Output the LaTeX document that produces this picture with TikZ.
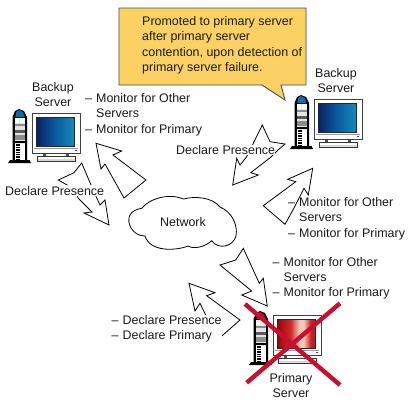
\documentclass[tikz,border=0pt]{standalone}
\usepackage{fontspec}
\setmainfont{Liberation Sans}
\definecolor{calloutfill}{HTML}{FBD164}
\definecolor{crossred}{HTML}{C8102E}
\definecolor{txt}{HTML}{1A1A1A}
\definecolor{casegray}{HTML}{E4E4E4}
\definecolor{capblue}{HTML}{0F6CA8}
\definecolor{capred}{HTML}{B01020}
\definecolor{sbA}{HTML}{0A2468}
\definecolor{sbB}{HTML}{0B5CA0}
\definecolor{sbC}{HTML}{1488B8}
\definecolor{srA}{HTML}{A00810}
\definecolor{srB}{HTML}{D02A28}
\definecolor{srC}{HTML}{F4C8B8}
\definecolor{srD}{HTML}{C81C20}
\pgfdeclarehorizontalshading{bluescreen}{100bp}{color(0bp)=(sbA); color(25bp)=(sbA); color(50bp)=(sbB); color(75bp)=(sbC); color(100bp)=(sbC)}
\pgfdeclarehorizontalshading{redscreen}{100bp}{color(0bp)=(srA); color(25bp)=(srA); color(42bp)=(srB); color(54bp)=(srC); color(60bp)=(srC); color(70bp)=(srD); color(100bp)=(srD)}
\newcommand{\serverbox}[4]{%
 \begin{scope}[shift={(#1,#2)}]
  % tower
  \fill[black] (8,163) -- (10,160) -- (12.5,160) -- (12.5,117) -- (15,111) -- (19,109) -- (24,111) -- (27,117) -- (27,160) -- (29.5,160) -- (31,163) -- cycle;
  \fill[#3] (15.5,117) -- (16,112) -- (19,110) -- (23,112) -- (24.5,117) -- cycle;
  \fill[casegray] (15,118) rectangle (25,160);
  \fill[white] (15,118) rectangle (19.3,123);
  \fill[white] (20.3,118) rectangle (25,123);
  \fill[black!45] (15,124) rectangle (25,126);
  \fill[black!65] (15,130) rectangle (25,133);
  \fill[black!45] (15,135) rectangle (25,140);
  \fill[black] (15,141) rectangle (25,143);
  \fill[white] (15,144) rectangle (25,160);
  \fill[black] (15.5,144) rectangle (20,160);
  \foreach \yy in {146,148.4,...,159}{\draw[white,line width=0.5pt] (15.5,\yy) -- (20,\yy);}
  % monitor
  \draw[black!80,fill=white,line width=0.8pt] (37,156) rectangle (75,161);
  \fill[black!15] (38,158.5) rectangle (74.5,160.5);
  \fill[black!70] (43,153) rectangle (46,156);
  \fill[black!70] (66,153) rectangle (69,156);
  \draw[black!75,fill=white,line width=0.9pt] (32,113.5) rectangle (80,153);
  \draw[black!40,line width=0.5pt] (34,148.5) -- (78,148.5);
  \fill[black!85] (36,117) rectangle (75,146.5);
  \shade[shading=#4] (37.5,118.5) rectangle (73.5,145);
  \fill[black!75] (74.5,149.5) rectangle (77,151);
 \end{scope}}
\tikzset{
 x=1pt,y=-1pt,
 labeltext/.style={inner sep=0pt,align=left,text=txt,font=\fontsize{12.45}{15.2}\selectfont},
 centertext/.style={inner sep=0pt,align=center,text=txt,font=\fontsize{12.45}{15.2}\selectfont},
 maskedtext/.style={labeltext,fill=white,inner xsep=0pt,inner ysep=0.5pt},
 flowarrow/.style={draw=black,fill=white,line width=0.8pt,line join=miter},
 crossline/.style={draw=crossred,line width=4.4pt}
}
\newcommand{\dashitem}[1]{\makebox[11pt][l]{–}#1}
\begin{document}
\begin{tikzpicture}
\useasboundingbox (0,0) rectangle (410,405);
\fill[white] (0,0) rectangle (410,405);
% callout
\filldraw[fill=calloutfill,draw=black!70,line width=0.9pt] (119,8) -- (306,8) -- (306,85) -- (281,85) -- (285,100) -- (262,85) -- (119,85) -- cycle;
\node[labeltext,anchor=north west] (note) at (142,16.5) {Promoted to primary server\\after primary server\\contention, upon detection of\\primary server failure.};
% computers
\serverbox{0}{0}{capblue}{bluescreen}
\serverbox{282}{-14}{capblue}{bluescreen}
% arrows
\draw[flowarrow] (96,143.3) -- (121.7,151) -- (113,155) -- (146,180) -- (124,198) -- (105,164) -- (101,169) -- cycle;
\draw[flowarrow] (81.7,163) -- (74,172.7) -- (58.3,180) -- (76,190) -- (78,198) -- (92,212) -- (84,213) -- (109,225) -- (105,200) -- (100,205) -- (94,192) -- cycle;
\draw[flowarrow] (262.3,125) -- (270,141.7) -- (285,144) -- (278,150) -- (270.7,157.3) -- (250.7,172.7) -- (258.3,175) -- (232.7,185) -- (236.7,158.3) -- (240,165) -- (246.7,156.7) -- cycle;
\draw[flowarrow] (312.7,168.3) -- (287.7,179.3) -- (295.7,181.7) -- (263.3,205.7) -- (285,224.3) -- (294,208) -- (304,188.3) -- (308.3,195) -- cycle;
\draw[flowarrow] (243.3,248.3) -- (235.7,260) -- (220,265) -- (251.7,291) -- (241.7,295) -- (267.3,306) -- (263.3,278.3) -- (259.3,283.3) -- cycle;
\draw[flowarrow] (189,283.3) -- (215,292.7) -- (206.7,295.7) -- (240,320) -- (217.3,340) -- (213,330) -- (200,303.3) -- (195,311) -- cycle;
% cloud
\draw[flowarrow] (141.7,208.3) .. controls (150,198) and (170,193) .. (183.3,199)
 .. controls (195,196) and (212,197) .. (220,207)
 .. controls (232,212) and (238,225) .. (236,236)
 .. controls (233,247) and (218,250) .. (211.7,240.7)
 .. controls (204,248) and (192,249) .. (188.3,246)
 .. controls (175,251) and (150,252) .. (145,236)
 .. controls (132,236) and (126,222) .. (130,215)
 .. controls (132,211) and (137,209) .. (141.7,208.3) -- cycle;
\node[labeltext,anchor=base] (net) at (183,226.7) {Network};
% labels
\node[centertext,anchor=north] (lb) at (53,82) {Backup\\Server};
\node[centertext,anchor=north] (rb) at (336,68.5) {Backup\\Server};
\node[centertext,anchor=north] (ps) at (291,373) {Primary\\Server};
\node[labeltext,anchor=north west] (l1) at (85,93.5) {\dashitem{Monitor for Other}\\\hspace*{11pt}Servers\\\dashitem{Monitor for Primary}};
\node[maskedtext,anchor=base west] (dp1) at (5,195) {Declare Presence};
\node[maskedtext,anchor=base west] (dp2) at (176,154.3) {Declare Presence};
\node[labeltext,anchor=north west] (l2) at (288,197.5) {\dashitem{Monitor for Other}\\\hspace*{11pt}Servers\\\dashitem{Monitor for Primary}};
\node[labeltext,anchor=north west] (l3) at (272.5,257) {\dashitem{Monitor for Other}\\\hspace*{11pt}Servers\\\dashitem{Monitor for Primary}};
\node[maskedtext,anchor=north west] (l4) at (111.5,314.5) {\dashitem{Declare Presence}\\\dashitem{Declare Primary}};
% primary
\serverbox{241}{202}{capred}{redscreen}
\draw[crossline] (245,304) -- (340,385);
\draw[crossline] (246.7,382.7) -- (340,303.3);
\end{tikzpicture}
\end{document}
